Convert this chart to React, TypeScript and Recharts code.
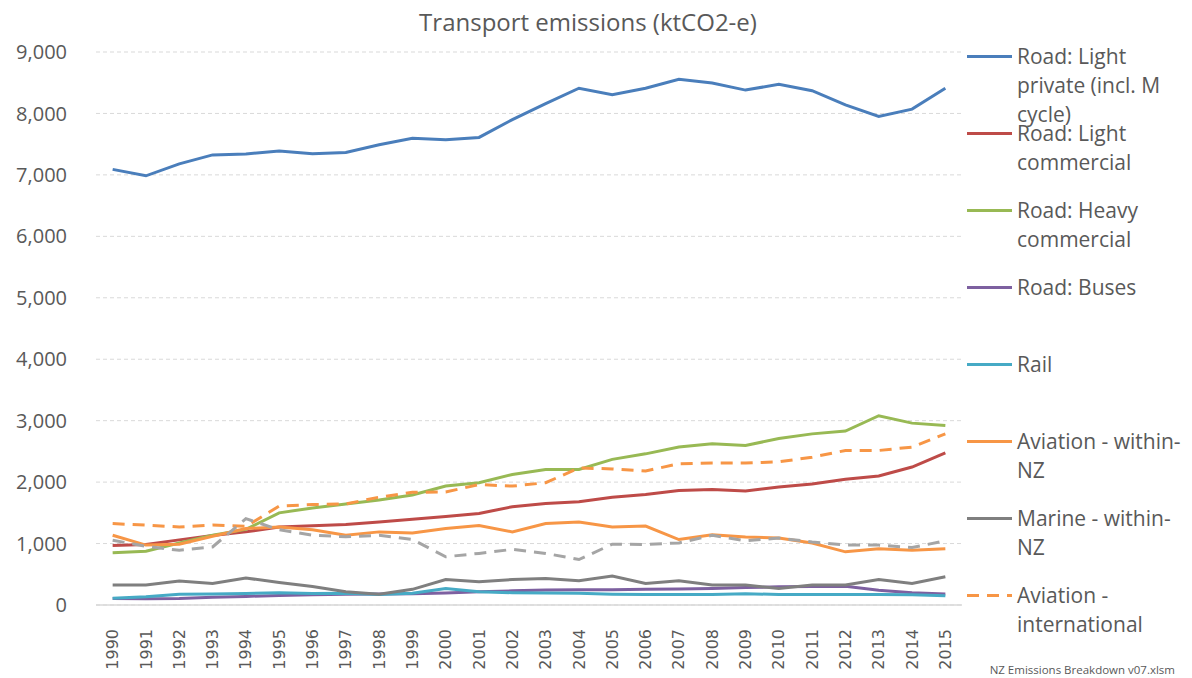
import React from "react";
import { LineChart, Line, XAxis, YAxis, CartesianGrid, Legend } from "recharts";

const years = [
  "1990", "1991", "1992", "1993", "1994", "1995", "1996", "1997", "1998", "1999", "2000", "2001", "2002",
  "2003", "2004", "2005", "2006", "2007", "2008", "2009", "2010", "2011", "2012", "2013", "2014", "2015",
];

const lightPrivate = [
  7090, 6985, 7180, 7325, 7340, 7390, 7345, 7365, 7490, 7595, 7570, 7610, 7900,
  8160, 8410, 8305, 8410, 8555, 8495, 8380, 8475, 8370, 8140, 7950, 8070, 8410,
];
const lightCommercial = [
  970, 985, 1060, 1130, 1190, 1270, 1290, 1310, 1350, 1395, 1440, 1490, 1600,
  1650, 1680, 1755, 1800, 1865, 1880, 1855, 1920, 1970, 2045, 2100, 2245, 2475,
];
const heavyCommercial = [
  850, 875, 1010, 1135, 1230, 1500, 1580, 1645, 1710, 1790, 1935, 1990, 2125,
  2205, 2205, 2370, 2460, 2570, 2625, 2595, 2710, 2785, 2830, 3080, 2960, 2920,
];
const buses = [
  105, 100, 105, 125, 140, 155, 165, 175, 180, 185, 195, 215, 230,
  245, 250, 250, 255, 260, 270, 285, 295, 300, 305, 240, 200, 180,
];
const rail = [
  110, 135, 175, 178, 188, 198, 188, 190, 172, 190, 270, 215, 200,
  195, 190, 175, 172, 172, 170, 185, 170, 172, 172, 170, 165, 150,
];
const aviationDomestic = [
  1135, 975, 990, 1120, 1245, 1270, 1225, 1135, 1190, 1170, 1245, 1295, 1190,
  1325, 1350, 1270, 1285, 1065, 1145, 1105, 1090, 1010, 865, 915, 890, 915,
];
const marineDomestic = [
  325, 325, 390, 350, 440, 365, 300, 215, 175, 255, 415, 380, 415,
  430, 395, 470, 350, 395, 325, 325, 270, 325, 325, 415, 350, 460,
];
const aviationInternational = [
  1325, 1300, 1270, 1300, 1280, 1610, 1635, 1645, 1755, 1835, 1840, 1960, 1935,
  1990, 2230, 2215, 2180, 2300, 2310, 2310, 2330, 2405, 2515, 2515, 2570, 2785,
];
const marineInternational = [
  1055, 955, 890, 945, 1405, 1225, 1135, 1110, 1135, 1065, 785, 840, 905,
  840, 740, 990, 985, 1010, 1135, 1045, 1090, 1025, 975, 975, 935, 1045,
];

const yTicks = [0, 1000, 2000, 3000, 4000, 5000, 6000, 7000, 8000, 9000];

// the grey dashed line has no legend entry in the source chart (legend is cut off)
const series = [
  { key: "lightPrivate", name: "Road: Light private (incl. M cycle)", values: lightPrivate, color: "#4A7EBB", dash: undefined, inLegend: true },
  { key: "lightCommercial", name: "Road: Light commercial", values: lightCommercial, color: "#BE4B48", dash: undefined, inLegend: true },
  { key: "heavyCommercial", name: "Road: Heavy commercial", values: heavyCommercial, color: "#98B954", dash: undefined, inLegend: true },
  { key: "buses", name: "Road: Buses", values: buses, color: "#7D60A0", dash: undefined, inLegend: true },
  { key: "rail", name: "Rail", values: rail, color: "#46AAC5", dash: undefined, inLegend: true },
  { key: "aviationDomestic", name: "Aviation - within-NZ", values: aviationDomestic, color: "#F79646", dash: undefined, inLegend: true },
  { key: "marineDomestic", name: "Marine - within-NZ", values: marineDomestic, color: "#7F7F7F", dash: undefined, inLegend: true },
  { key: "aviationInternational", name: "Aviation - international", values: aviationInternational, color: "#F79646", dash: "12 8", inLegend: true },
  { key: "marineInternational", name: "Marine - international", values: marineInternational, color: "#A5A5A5", dash: "12 8", inLegend: false },
];

const data = years.map((year, i) => {
  const row: Record<string, string | number> = { year };
  series.forEach((s) => {
    row[s.key] = s.values[i];
  });
  return row;
});

const FONT = "'Open Sans', sans-serif";
const TEXT = "#595959";

function YearTick({ x, y, payload }: any) {
  return (
    <text
      x={x}
      y={y}
      dy="0.35em"
      transform={`rotate(-90, ${x}, ${y})`}
      textAnchor="end"
      fill={TEXT}
      fontSize={16}
      fontFamily="'DejaVu Sans', sans-serif"
    >
      {payload.value}
    </text>
  );
}

function renderLegend() {
  return (
    <div style={{ fontFamily: FONT, fontSize: 21, color: TEXT }}>
      {series
        .filter((s) => s.inLegend)
        .map((s) => (
          <div key={s.key} style={{ height: 77, display: "flex", alignItems: "flex-start" }}>
            <svg width={50} height={29} style={{ flex: "none" }}>
              <line x1={0} x2={45} y1={14.5} y2={14.5} stroke={s.color} strokeWidth={3} strokeDasharray={s.dash} />
            </svg>
            <div style={{ width: 172, lineHeight: "29px" }}>{s.name}</div>
          </div>
        ))}
    </div>
  );
}

export default function App() {
  return (
    <div style={{ position: "absolute", left: 0, top: 0, width: 1192, height: 678, background: "#fff" }}>
      <div
        style={{
          position: "absolute",
          left: 0,
          width: 1176,
          top: 5,
          textAlign: "center",
          fontFamily: FONT,
          fontSize: 24,
          color: TEXT,
        }}
      >
        Transport emissions (ktCO2-e)
      </div>
      <LineChart width={1192} height={678} data={data} margin={{ top: 52, right: 230, bottom: 0, left: 10 }}>
        <CartesianGrid vertical={false} stroke="#D9D9D9" strokeDasharray="4 3" />
        <XAxis
          dataKey="year"
          height={73}
          interval={0}
          padding={{ left: 16.65, right: 16.65 }}
          axisLine={{ stroke: "#D9D9D9", strokeWidth: 1.5 }}
          tickLine={false}
          tickSize={0}
          tick={<YearTick />}
          tickMargin={24}
        />
        <YAxis
          width={86}
          domain={[0, 9000]}
          ticks={yTicks}
          interval={0}
          axisLine={false}
          tickLine={false}
          tickSize={0}
          tickMargin={29}
          tickFormatter={(v: number) => v.toLocaleString("en-US")}
          tick={{ fill: TEXT, fontSize: 20, fontFamily: FONT }}
        />
        <Legend
          layout="vertical"
          align="center"
          verticalAlign="middle"
          content={renderLegend}
          wrapperStyle={{ left: 967, top: 42, width: 225 }}
        />
        {series.map((s) => (
          <Line
            key={s.key}
            dataKey={s.key}
            name={s.name}
            type="linear"
            stroke={s.color}
            strokeWidth={3}
            strokeDasharray={s.dash}
            dot={false}
            activeDot={false}
            legendType={s.inLegend ? "line" : "none"}
            isAnimationActive={false}
          />
        ))}
      </LineChart>
      <div
        style={{
          position: "absolute",
          right: 17,
          top: 662,
          fontFamily: FONT,
          fontSize: 11.5,
          color: TEXT,
        }}
      >
        NZ Emissions Breakdown v07.xlsm
      </div>
    </div>
  );
}
